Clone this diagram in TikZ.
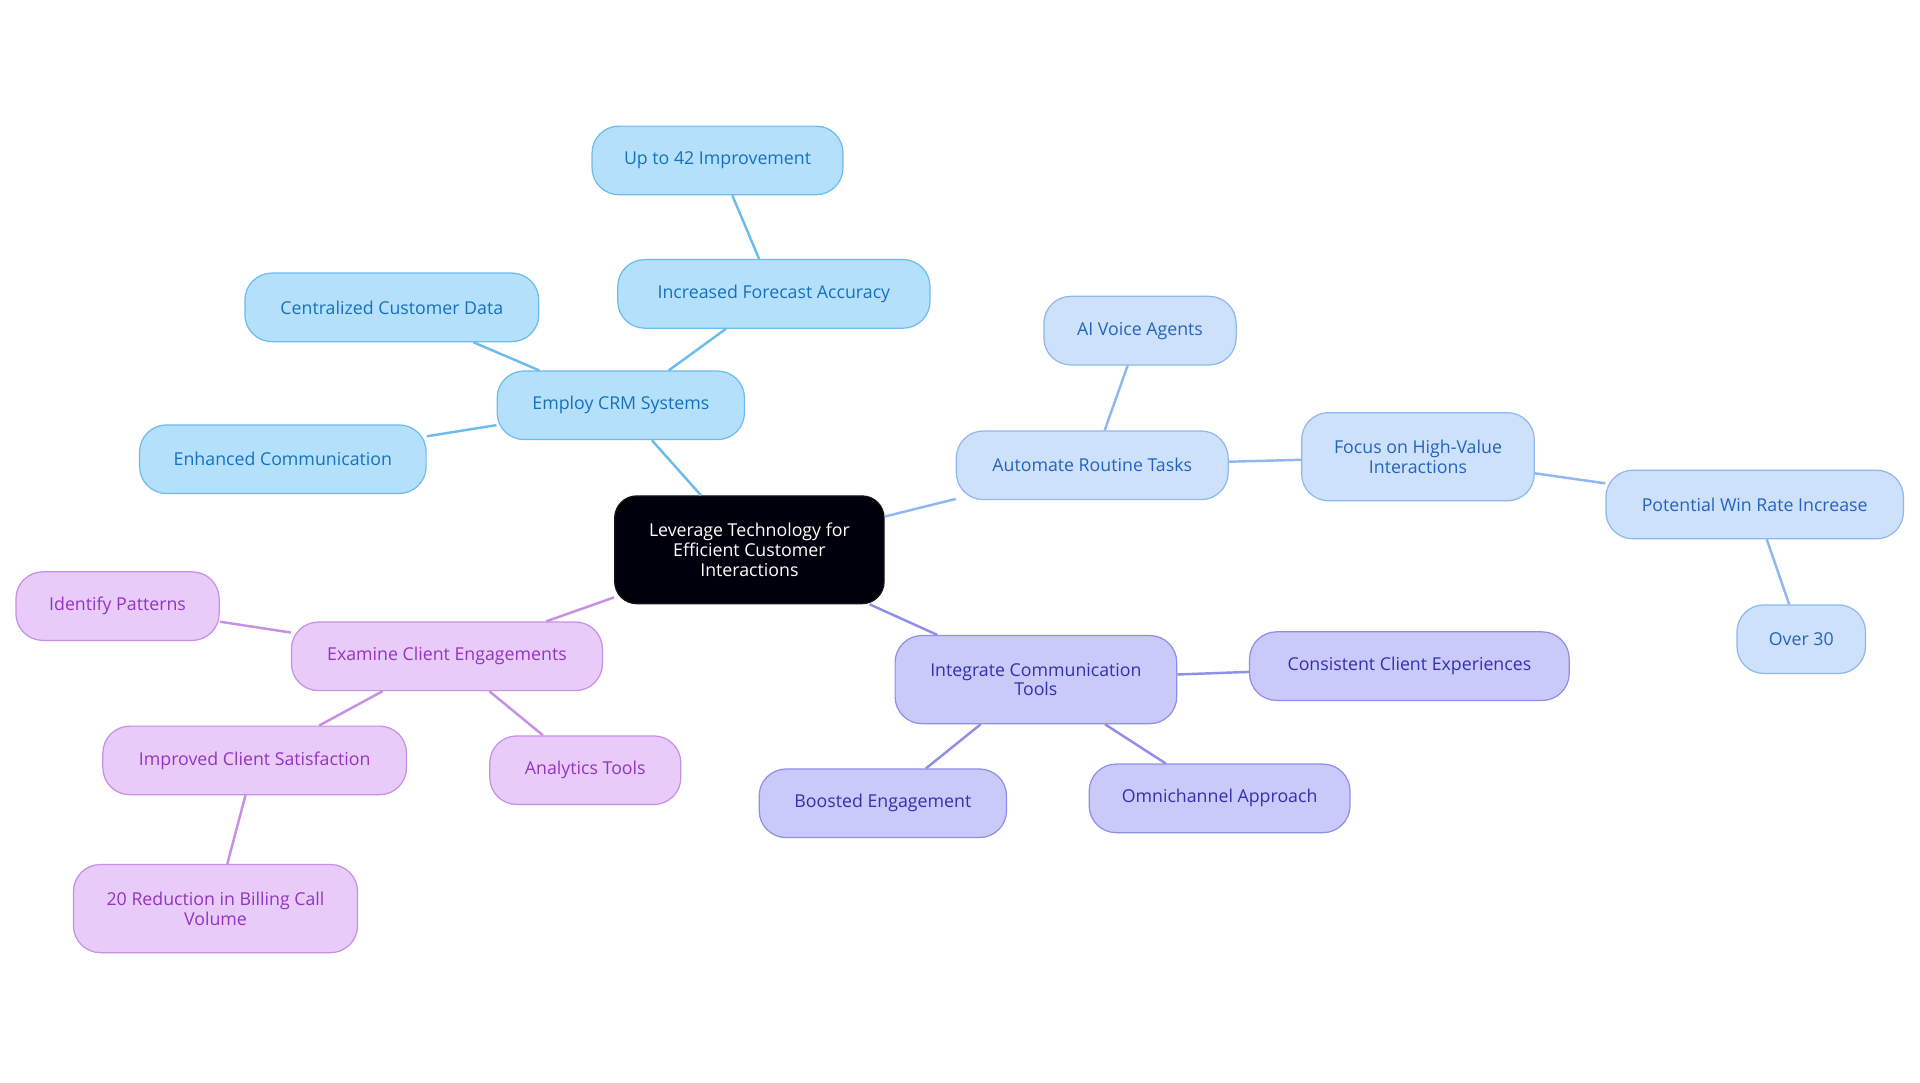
\documentclass[tikz,border=0pt]{standalone}
\usepackage{fontspec}
\setmainfont{Open Sans}
\begin{document}
\begin{tikzpicture}[x=1pt,y=-1pt,
 base/.style={draw,rounded corners=22pt,line width=1pt,minimum height=56pt,align=center,inner sep=2pt,font=\fontsize{14.5}{16}\selectfont},
 ga/.style={base,fill=ga_f,draw=ga_d,text=ga_t},
 gb/.style={base,fill=gb_f,draw=gb_d,text=gb_t},
 gc/.style={base,fill=gc_f,draw=gc_d,text=gc_t},
 gd/.style={base,fill=gd_f,draw=gd_d,text=gd_t},
 ea/.style={draw=ga_d,line width=2pt},
 eb/.style={draw=gb_d,line width=2pt},
 ec/.style={draw=gc_d,line width=2pt},
 ed/.style={draw=gd_d,line width=2pt}]
\definecolor{ga_f}{HTML}{B5E0FC}\definecolor{ga_d}{HTML}{6CBCEE}\definecolor{ga_t}{HTML}{1670BF}
\definecolor{gb_f}{HTML}{CDE1FB}\definecolor{gb_d}{HTML}{8EB8EF}\definecolor{gb_t}{HTML}{2463BF}
\definecolor{gc_f}{HTML}{C9C9FA}\definecolor{gc_d}{HTML}{8F8EEA}\definecolor{gc_t}{HTML}{3131AF}
\definecolor{gd_f}{HTML}{E8CBF9}\definecolor{gd_d}{HTML}{C690E8}\definecolor{gd_t}{HTML}{9334C0}
\useasboundingbox[fill=white] (0,0) rectangle (1568,884);
\node[base,fill=black!92!blue!60!black,draw=black!92,text=white,minimum width=220pt,minimum height=88pt,rounded corners=18pt] (c) at (612,449) {Leverage Technology for\\Efficient Customer\\Interactions};
\node[ga,minimum width=202pt] (crm) at (507,331) {Employ CRM Systems};
\node[ga,minimum width=205pt] (up) at (586,131) {Up to 42 Improvement};
\node[ga,minimum width=255pt] (fa) at (632,240) {Increased Forecast Accuracy};
\node[ga,minimum width=240pt] (cd) at (320,251) {Centralized Customer Data};
\node[ga,minimum width=234pt] (ec) at (231,375) {Enhanced Communication};
\node[gb,minimum width=222pt] (art) at (892,380) {Automate Routine Tasks};
\node[gb,minimum width=157pt] (ai) at (931,270) {AI Voice Agents};
\node[gb,minimum width=190pt,minimum height=72pt] (fo) at (1158,373) {Focus on High-Value\\Interactions};
\node[gb,minimum width=243pt] (wr) at (1433,412) {Potential Win Rate Increase};
\node[gb,minimum width=105pt] (o30) at (1471,522) {Over 30};
\node[gc,minimum width=230pt,minimum height=72pt] (ict) at (846,555) {Integrate Communication\\Tools};
\node[gc,minimum width=261pt] (cce) at (1151,544) {Consistent Client Experiences};
\node[gc,minimum width=202pt] (be) at (721,656) {Boosted Engagement};
\node[gc,minimum width=213pt] (oa) at (996,652) {Omnichannel Approach};
\node[gd,minimum width=254pt] (ece) at (365,536) {Examine Client Engagements};
\node[gd,minimum width=166pt] (ip) at (96,495) {Identify Patterns};
\node[gd,minimum width=248pt] (ics) at (208,621) {Improved Client Satisfaction};
\node[gd,minimum width=156pt] (at) at (478,629) {Analytics Tools};
\node[gd,minimum width=232pt,minimum height=72pt] (rb) at (176,742) {20 Reduction in Billing Call\\Volume};
\begin{scope}[on background layer/.style={}]
\end{scope}
\draw[ea] (c) -- (crm); \draw[ea] (crm) -- (fa); \draw[ea] (fa) -- (up);
\draw[ea] (crm) -- (cd); \draw[ea] (crm) -- (ec);
\draw[eb] (c) -- (art); \draw[eb] (art) -- (ai); \draw[eb] (art) -- (fo);
\draw[eb] (fo) -- (wr); \draw[eb] (wr) -- (o30);
\draw[ec] (c) -- (ict); \draw[ec] (ict) -- (cce); \draw[ec] (ict) -- (be); \draw[ec] (ict) -- (oa);
\draw[ed] (c) -- (ece); \draw[ed] (ece) -- (ip); \draw[ed] (ece) -- (ics); \draw[ed] (ece) -- (at); \draw[ed] (ics) -- (rb);
\end{tikzpicture}
\end{document}
